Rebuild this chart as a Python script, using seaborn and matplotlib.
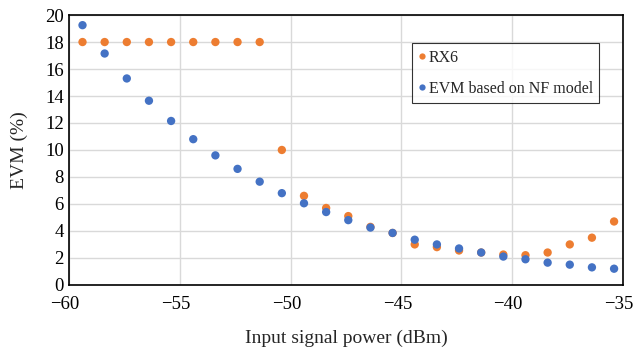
import pandas as pd
import matplotlib
matplotlib.use('Agg')
import matplotlib.pyplot as plt
import matplotlib.transforms as mtransforms
import seaborn as sns

# input power points (dBm)
power = [-59.4, -58.4, -57.4, -56.4, -55.4, -54.4, -53.4, -52.4, -51.4, -50.4,
         -49.4, -48.4, -47.4, -46.4, -45.4, -44.4, -43.4, -42.4, -41.4, -40.4,
         -39.4, -38.4, -37.4, -36.4, -35.4]

evm_rx6 = [18, 18, 18, 18, 18, 18, 18, 18, 18, 10.0,
           6.6, 5.7, 5.1, 4.3, 3.85, 3.0, 2.8, 2.55, 2.4, 2.25,
           2.2, 2.4, 3.0, 3.5, 4.7]

evm_nf = [19.25, 17.15, 15.3, 13.65, 12.15, 10.8, 9.6, 8.6, 7.65, 6.8,
          6.05, 5.4, 4.8, 4.25, 3.85, 3.35, 3.0, 2.7, 2.4, 2.1,
          1.9, 1.65, 1.5, 1.3, 1.2]

labels = ['RX6', 'EVM based on NF model']
colors = ['#ED7D31', '#4472C4']

df = pd.concat([
    pd.DataFrame({'power': power, 'evm': evm_rx6, 'series': labels[0]}),
    pd.DataFrame({'power': power, 'evm': evm_nf, 'series': labels[1]}),
])

sns.set_style('white')
plt.rcParams['font.family'] = ['Liberation Serif', 'DejaVu Serif']

dpi = 100
fig, ax = plt.subplots(figsize=(635 / dpi, 350 / dpi), dpi=dpi)

sns.scatterplot(data=df, x='power', y='evm', hue='series', hue_order=labels,
                palette=colors, s=36, linewidth=0, ax=ax)

ax.set_xlim(-60, -35)
ax.set_ylim(0, 20)
ax.set_xticks(range(-60, -34, 5))
ax.set_yticks(range(0, 21, 2))
ax.grid(True, color='#d9d9d9', linewidth=1)
ax.set_axisbelow(True)
ax.tick_params(length=0, labelsize=13.5, colors='black')
ax.tick_params(axis='x', pad=8)
ax.tick_params(axis='y', pad=4)

# nudge x tick labels a bit to the left, like the original
shift = mtransforms.ScaledTranslation(-4 / dpi, 0, fig.dpi_scale_trans)
for lab in ax.get_xticklabels():
    lab.set_transform(lab.get_transform() + shift)

for sp in ax.spines.values():
    sp.set_visible(True)
    sp.set_color('black')
    sp.set_linewidth(1.2)

ax.set_xlabel('Input signal power (dBm)', fontsize=14, labelpad=12)
ax.set_ylabel('EVM (%)', fontsize=14, labelpad=12)

leg = ax.legend(loc='upper left', bbox_to_anchor=(0.619, 0.895), frameon=True,
                fancybox=False, edgecolor='black', fontsize=11.5,
                handletextpad=0.15, labelspacing=0.95, borderpad=0.4,
                handlelength=0.5, markerscale=0.75, borderaxespad=0)
leg.get_frame().set_linewidth(0.8)

plt.subplots_adjust(left=0.109, right=0.981, top=0.957, bottom=0.186)
plt.savefig('out.png', dpi=dpi)
